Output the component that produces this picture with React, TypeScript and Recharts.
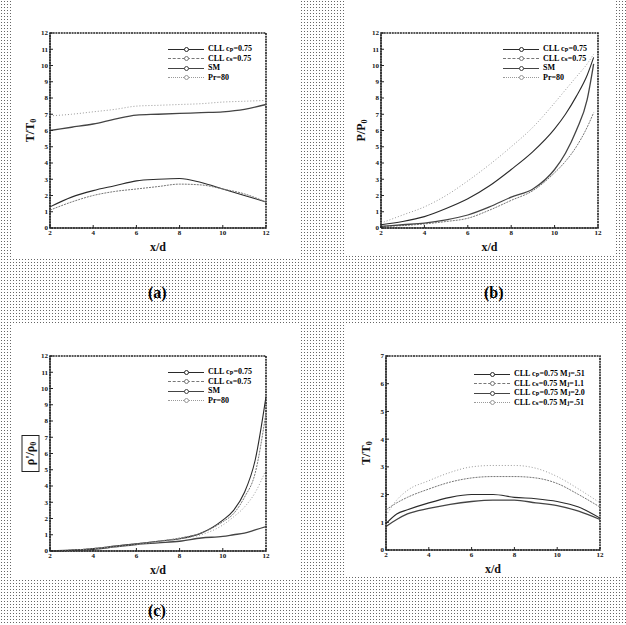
import React from 'react';
import { LineChart, Line, XAxis, YAxis, Label, ReferenceArea } from 'recharts';

// (a) T/T0
const xA = [2, 3, 4, 5, 6, 7, 8, 9, 10, 11, 12];
const aCp = [1.3, 1.9, 2.3, 2.6, 2.9, 3.0, 3.05, 2.8, 2.4, 2.0, 1.6];
const aCs = [1.1, 1.6, 2.0, 2.25, 2.4, 2.55, 2.7, 2.65, 2.4, 2.1, 1.6];
const aSm = [6.0, 6.2, 6.4, 6.7, 6.95, 7.0, 7.05, 7.1, 7.15, 7.3, 7.6];
const aPr = [6.9, 7.0, 7.15, 7.3, 7.5, 7.55, 7.6, 7.65, 7.75, 7.8, 7.85];

// (b) P/P0
const xB = [2, 3, 4, 5, 6, 7, 8, 9, 10, 10.5, 11, 11.5, 11.8];
const bCp = [0.2, 0.4, 0.7, 1.2, 1.8, 2.6, 3.6, 4.7, 6.1, 7.0, 8.1, 9.4, 10.5];
const bCs = [0.1, 0.15, 0.25, 0.4, 0.6, 1.1, 1.7, 2.3, 3.4, 4.1, 5.0, 6.2, 7.1];
const bSm = [0.1, 0.2, 0.3, 0.5, 0.8, 1.3, 1.9, 2.4, 3.6, 4.6, 6.0, 7.9, 10.1];
const bPr = [0.3, 0.8, 1.3, 2.0, 2.9, 3.9, 5.0, 6.2, 7.7, 8.5, 9.3, 10.1, 10.7];

// (c) rho'/rho0
const xC = [2, 3, 4, 5, 6, 7, 8, 9, 10, 10.5, 11, 11.5, 12];
const cCp = [0, 0.05, 0.15, 0.3, 0.45, 0.6, 0.75, 1.1, 1.9, 2.5, 3.6, 5.6, 9.5];
const cCs = [0, 0.05, 0.15, 0.3, 0.45, 0.6, 0.8, 1.1, 1.8, 2.3, 3.3, 4.8, 8.5];
const cSm = [0, 0.05, 0.1, 0.25, 0.4, 0.5, 0.6, 0.8, 0.9, 1.0, 1.1, 1.3, 1.5];
const cPr = [0, 0.05, 0.15, 0.25, 0.4, 0.55, 0.75, 1.0, 1.6, 2.1, 2.7, 3.6, 5.0];

// (d) T/T0, Mach numbers
const xD = [2, 2.5, 3, 4, 5, 6, 7, 8, 9, 10, 11, 12];
const d1 = [0.95, 1.3, 1.45, 1.7, 1.9, 2.0, 2.0, 1.9, 1.85, 1.75, 1.55, 1.15];
const d2 = [1.45, 1.7, 1.9, 2.2, 2.45, 2.6, 2.65, 2.65, 2.6, 2.4, 2.0, 1.55];
const d3 = [0.85, 1.1, 1.3, 1.5, 1.65, 1.75, 1.8, 1.8, 1.7, 1.6, 1.4, 1.1];
const d4 = [1.25, 1.8, 2.15, 2.5, 2.8, 3.0, 3.05, 3.05, 2.95, 2.65, 2.2, 1.7];

const xTicks = [2, 4, 6, 8, 10, 12];
const yTicks12 = [0, 1, 2, 3, 4, 5, 6, 7, 8, 9, 10, 11, 12];
const yTicks7 = [0, 1, 2, 3, 4, 5, 6, 7];

const namesABC = ['CLL c\u209A=0.75', 'CLL c\u209B=0.75', 'SM', 'Pr=80'];
const namesD = [
  'CLL c\u209A=0.75 M\u2C7C=.51',
  'CLL c\u209B=0.75 M\u2C7C=1.1',
  'CLL c\u209A=0.75 M\u2C7C=2.0',
  'CLL c\u209B=0.75 M\u2C7C=.51',
];

const styles = [
  { stroke: '#2a2a2a', dash: '', css: 'solid', width: 1.1 },
  { stroke: '#777', dash: '2 1', css: 'dashed', width: 1 },
  { stroke: '#444', dash: '', css: 'solid', width: 1.3 },
  { stroke: '#999', dash: '1 2', css: 'dotted', width: 1 },
];

const serif = '"Liberation Serif", "DejaVu Serif", serif';

const makeRows = (xs: number[], ys: number[][]) =>
  xs.map((x, i) => {
    const r: any = { x };
    ys.forEach((s, k) => (r['s' + k] = s[i]));
    return r;
  });

// plain html legend, no nested svg
const LegendBox = ({ names, l, t }: { names: string[]; l: number; t: number }) => (
  <div style={{ position: 'absolute', left: l, top: t, fontFamily: serif, fontSize: 8, fontWeight: 'bold', lineHeight: '9.5px' }}>
    {names.map((n, i) => (
      <div key={n} style={{ display: 'flex', alignItems: 'center', whiteSpace: 'nowrap' }}>
        <div style={{ position: 'relative', width: 36, height: 8, marginRight: 4 }}>
          <div style={{ position: 'absolute', left: 0, right: 0, top: 4, borderTop: `1px ${styles[i].css} ${styles[i].stroke}` }} />
          <div style={{ position: 'absolute', left: 16, top: 2, width: 3, height: 3, borderRadius: 3, border: `0.8px solid ${styles[i].stroke}`, background: '#fff' }} />
        </div>
        <span>{n}</span>
      </div>
    ))}
  </div>
);

function Panel(props: {
  box: { l: number; t: number; w: number; h: number };
  plot: { l: number; t: number; r: number; b: number };
  rows: any[];
  names: string[];
  yMax: number;
  yTicks: number[];
  yLabel: React.ReactNode;
  boxed?: boolean;
  legend: { l: number; t: number };
}) {
  const { box, plot, rows, names, yMax, yTicks, yLabel, boxed, legend } = props;
  const yw = 16;
  const margin = {
    left: plot.l - box.l - yw,
    top: plot.t - box.t,
    right: box.l + box.w - plot.r,
    bottom: 0,
  };
  const xh = box.t + box.h - plot.b;
  const cx = plot.l - box.l - 20;
  const cy = (plot.t + plot.b) / 2 - box.t;
  const tick = { fontSize: 7, fontWeight: 'bold', fontFamily: serif, fill: '#111' };
  return (
    <div style={{ position: 'absolute', left: box.l, top: box.t, width: box.w, height: box.h, background: '#fff' }}>
      <LineChart width={box.w} height={box.h} data={rows} margin={margin}>
        <XAxis xAxisId="b" dataKey="x" type="number" domain={[2, 12]} ticks={xTicks} stroke="#222"
          height={xh} tickSize={-3} tickMargin={5} tick={tick}>
          <Label content={() => (
            <text x={(plot.l + plot.r) / 2 - box.l} y={plot.b - box.t + 23} textAnchor="middle"
              fontFamily={serif} fontWeight="bold" fontSize={12} fill="#111">x/d</text>
          )} />
        </XAxis>
        <YAxis yAxisId="l" type="number" domain={[0, yMax]} ticks={yTicks} width={yw} stroke="#222"
          tickSize={-3} tickMargin={5} tick={tick}>
          <Label content={() => (
            <g>
              {boxed && <rect x={cx - 8} y={cy - 18} width={17} height={36} fill="none" stroke="#222" strokeWidth={1} />}
              <text x={cx} y={cy} transform={`rotate(-90 ${cx} ${cy})`} textAnchor="middle"
                dominantBaseline="central" fontFamily={serif} fontWeight="bold" fontSize={12} fill="#111">
                {yLabel}
              </text>
            </g>
          )} />
        </YAxis>
        <ReferenceArea xAxisId="b" yAxisId="l" x1={2} x2={12} y1={0} y2={yMax}
          fill="none" stroke="#222" strokeWidth={1.6} strokeDasharray="2 0.7" />
        {names.map((n, i) => (
          <Line key={'s' + i} xAxisId="b" yAxisId="l" type="monotone" dataKey={'s' + i} name={n}
            stroke={styles[i].stroke} strokeWidth={styles[i].width}
            strokeDasharray={styles[i].dash || undefined} dot={false} isAnimationActive={false} />
        ))}
      </LineChart>
      <LegendBox names={names} l={legend.l - box.l} t={legend.t - box.t} />
    </div>
  );
}

const Sub = ({ t }: { t: string }) => (
  <>
    {t}
    <tspan fontSize={8} dy={3}>0</tspan>
  </>
);

const tag = (text: string, l: number, t: number) => (
  <div style={{ position: 'absolute', left: l, top: t, fontFamily: serif, fontWeight: 'bold', fontSize: 16 }}>
    {text}
  </div>
);

export default function App() {
  return (
    <div
      style={{
        position: 'absolute', left: 0, top: 0, width: 626, height: 625, overflow: 'hidden',
        background: '#fff',
        backgroundImage: 'radial-gradient(circle, #666 0.55px, transparent 0.9px)',
        backgroundSize: '3px 3px',
      }}
    >
      <Panel box={{ l: 12, t: 0, w: 288, h: 258 }} plot={{ l: 50, t: 33, r: 266, b: 228 }}
        rows={makeRows(xA, [aCp, aCs, aSm, aPr])} names={namesABC} yMax={12} yTicks={yTicks12}
        yLabel={<Sub t="T/T" />} legend={{ l: 168, t: 44 }} />
      <Panel box={{ l: 346, t: 0, w: 270, h: 255 }} plot={{ l: 381, t: 33, r: 598, b: 228 }}
        rows={makeRows(xB, [bCp, bCs, bSm, bPr])} names={namesABC} yMax={12} yTicks={yTicks12}
        yLabel={<Sub t="P/P" />} legend={{ l: 503, t: 44 }} />
      <Panel box={{ l: 12, t: 325, w: 288, h: 253 }} plot={{ l: 50, t: 356, r: 266, b: 551 }}
        rows={makeRows(xC, [cCp, cCs, cSm, cPr])} names={namesABC} yMax={12} yTicks={yTicks12}
        yLabel={<>{"\u03C1'/\u03C1"}<tspan fontSize={8} dy={3}>0</tspan></>} boxed legend={{ l: 168, t: 367 }} />
      <Panel box={{ l: 346, t: 323, w: 274, h: 254 }} plot={{ l: 386, t: 356, r: 600, b: 550 }}
        rows={makeRows(xD, [d1, d2, d3, d4])} names={namesD} yMax={7} yTicks={yTicks7}
        yLabel={<Sub t="T/T" />} legend={{ l: 474, t: 369 }} />
      {tag('(a)', 148, 284)}
      {tag('(b)', 484, 284)}
      {tag('(c)', 148, 602)}
    </div>
  );
}
